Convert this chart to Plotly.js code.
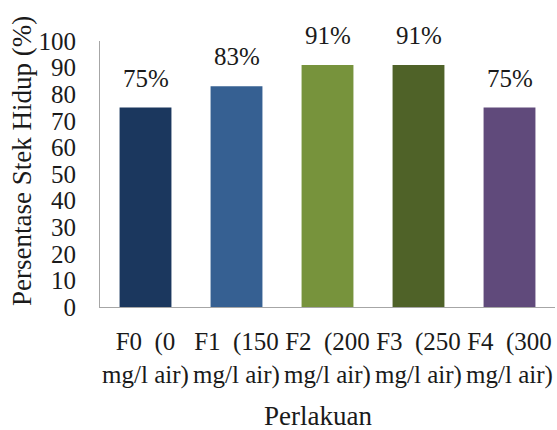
<!DOCTYPE html>
<html>
<head>
<meta charset="utf-8">
<script src="https://cdn.plot.ly/plotly-3.0.1.min.js"></script>
<style>html,body{margin:0;padding:0;background:#fff}#chart{width:557px;height:430px}</style>
</head>
<body>
<div id="chart"></div>
<script>
var categories = ["F0\u00a0\u00a0(0<br>mg/l air)", "F1\u00a0\u00a0(150<br>mg/l air)", "F2\u00a0\u00a0(200<br>mg/l air)", "F3\u00a0\u00a0(250<br>mg/l air)", "F4\u00a0\u00a0(300<br>mg/l air)"];
var values = [75, 83, 91, 91, 75];
var labels = ["75%", "83%", "91%", "91%", "75%"];
var colors = ["#1b375e", "#366092", "#77933c", "#4f6228", "#604a7b"];
var yTicks = [0,10,20,30,40,50,60,70,80,90,100];
var xTitle = "Perlakuan";
var yTitle = "Persentase Stek Hidup (%)";

var font = "Liberation Serif";
var txt = "#1a1a1a";
var trace = {
  type: "bar",
  x: categories,
  y: values,
  marker: {color: colors},
  width: 0.57,
  hoverinfo: "none"
};
var annotations = categories.map(function (c, i) {
  return {x: c, y: values[i], xref: "x", yref: "y", text: labels[i], showarrow: false,
          yanchor: "bottom", yshift: 14, font: {family: font, size: 25, color: txt}};
});
annotations.push({text: yTitle, xref: "paper", yref: "paper", x: -0.1714, y: 0.549,
  xanchor: "center", yanchor: "middle", textangle: -90, showarrow: false,
  font: {family: font, size: 27, color: txt}});
annotations.push({text: xTitle, xref: "paper", yref: "paper", x: 0.479, y: -0.41,
  xanchor: "center", yanchor: "middle", showarrow: false,
  font: {family: font, size: 27, color: txt}});

var layout = {
  width: 557, height: 430,
  margin: {l: 100, r: 2, t: 41, b: 123},
  paper_bgcolor: "#fff", plot_bgcolor: "#fff",
  showlegend: false,
  font: {family: font, size: 25, color: txt},
  annotations: annotations,
  xaxis: {
    showline: true, linecolor: "#a6a6a6", linewidth: 1,
    ticks: "", ticklabelstandoff: 12, tickangle: 0,
    tickfont: {family: font, size: 25, color: txt}
  },
  yaxis: {
    range: [0, 100], tickvals: yTicks, ticktext: yTicks.map(String),
    showgrid: false, zeroline: false,
    showline: true, linecolor: "#a6a6a6", linewidth: 1,
    ticks: "", ticklabelstandoff: 18,
    tickfont: {family: font, size: 25, color: txt}
  }
};
Plotly.newPlot("chart", [trace], layout, {staticPlot: true, displayModeBar: false});
</script>
</body>
</html>
